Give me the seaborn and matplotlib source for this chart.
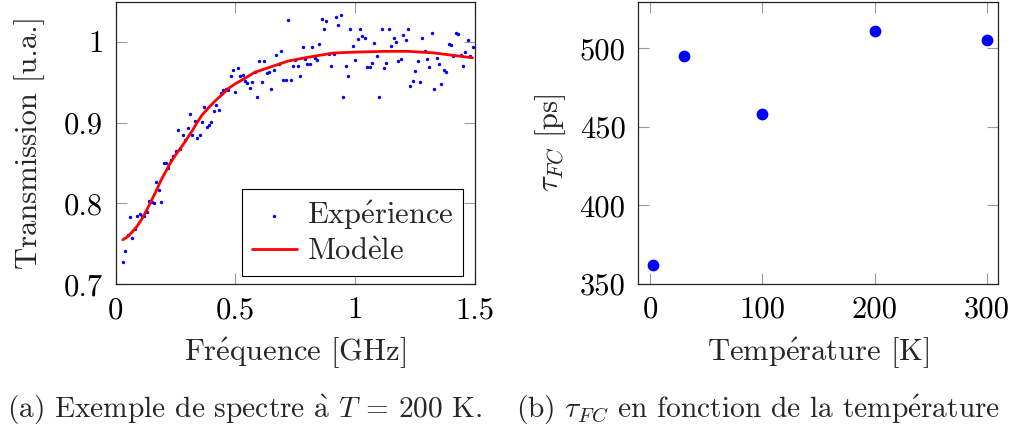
import matplotlib
matplotlib.use("Agg")
import matplotlib.pyplot as plt
import seaborn as sns
import pandas as pd

# ---------------- data ----------------
freq = [
    0.03, 0.04, 0.05, 0.06, 0.07, 0.08, 0.09, 0.10, 0.11, 0.12,
    0.13, 0.14, 0.15, 0.16, 0.17, 0.18, 0.19, 0.20, 0.21, 0.22,
    0.23, 0.24, 0.25, 0.26, 0.27, 0.28, 0.29, 0.30, 0.31, 0.32,
    0.33, 0.34, 0.35, 0.36, 0.37, 0.38, 0.39, 0.40, 0.41, 0.42,
    0.43, 0.44, 0.45, 0.46, 0.47, 0.48, 0.49, 0.50, 0.51, 0.52,
    0.53, 0.54, 0.55, 0.56, 0.57, 0.58, 0.59, 0.60, 0.61, 0.62,
    0.63, 0.64, 0.65, 0.66, 0.67, 0.68, 0.69, 0.70, 0.71, 0.72,
    0.73, 0.74, 0.75, 0.76, 0.77, 0.78, 0.79, 0.80, 0.81, 0.82,
    0.83, 0.84, 0.85, 0.86, 0.87, 0.88, 0.89, 0.90, 0.91, 0.92,
    0.93, 0.94, 0.95, 0.96, 0.97, 0.98, 0.99, 1.00, 1.01, 1.02,
    1.03, 1.04, 1.05, 1.06, 1.07, 1.08, 1.09, 1.10, 1.11, 1.12,
    1.13, 1.14, 1.15, 1.16, 1.17, 1.18, 1.19, 1.20, 1.21, 1.22,
    1.23, 1.24, 1.25, 1.26, 1.27, 1.28, 1.29, 1.30, 1.31, 1.32,
    1.33, 1.34, 1.35, 1.36, 1.37, 1.38, 1.39, 1.40, 1.41, 1.42,
    1.43, 1.44, 1.45, 1.46, 1.47, 1.48, 1.49,
]
transmission = [
    0.727, 0.741, 0.761, 0.783, 0.757, 0.768, 0.785, 0.787, 0.785, 0.784,
    0.789, 0.803, 0.802, 0.800, 0.827, 0.817, 0.802, 0.850, 0.850, 0.844,
    0.854, 0.858, 0.865, 0.891, 0.867, 0.884, 0.879, 0.893, 0.911, 0.885,
    0.902, 0.881, 0.884, 0.901, 0.919, 0.894, 0.897, 0.901, 0.914, 0.922,
    0.916, 0.936, 0.940, 0.942, 0.940, 0.957, 0.965, 0.938, 0.968, 0.957,
    0.959, 0.951, 0.949, 0.943, 0.950, 0.963, 0.931, 0.976, 0.950, 0.976,
    0.961, 0.962, 0.942, 0.965, 0.984, 0.972, 0.989, 0.952, 0.953, 1.027,
    0.952, 0.970, 0.977, 0.970, 0.957, 0.993, 0.978, 0.972, 0.972, 0.993,
    0.980, 0.977, 0.997, 1.028, 1.016, 1.026, 0.985, 0.970, 0.985, 1.030,
    1.021, 1.033, 0.932, 0.970, 0.958, 1.016, 0.994, 0.977, 1.003, 1.015,
    1.007, 1.004, 0.969, 0.969, 0.973, 0.998, 0.982, 0.931, 1.016, 0.968,
    0.973, 1.015, 0.994, 1.005, 1.000, 0.976, 0.979, 1.008, 1.002, 1.016,
    0.945, 0.951, 0.964, 0.976, 0.950, 1.005, 0.989, 0.978, 0.969, 1.011,
    0.941, 0.980, 0.972, 0.948, 0.965, 0.963, 0.997, 0.996, 0.982, 1.011,
    1.009, 0.984, 0.970, 0.987, 1.002, 0.982, 0.993,
]
model_freq = [0.03, 0.05, 0.07, 0.09, 0.11, 0.13, 0.15, 0.17, 0.19, 0.21,
              0.23, 0.255, 0.28, 0.30, 0.32, 0.34, 0.36, 0.39, 0.42, 0.45,
              0.47, 0.50, 0.53, 0.58, 0.65, 0.72, 0.79, 0.85, 0.91, 1.00,
              1.12, 1.22, 1.33, 1.41, 1.49]
model_trans = [0.755, 0.759, 0.765, 0.772, 0.781, 0.792, 0.804, 0.816, 0.829, 0.840,
               0.851, 0.862, 0.872, 0.881, 0.890, 0.900, 0.909, 0.919, 0.928, 0.936,
               0.942, 0.948, 0.953, 0.962, 0.969, 0.976, 0.980, 0.983, 0.986, 0.987,
               0.988, 0.988, 0.986, 0.983, 0.980]

temperature = [3, 30, 100, 200, 300]
tau_fc = [362, 495, 458, 511, 505]

left_xticks = [0, 0.5, 1, 1.5]
left_xticklabels = ["0", "0.5", "1", "1.5"]
left_yticks = [0.7, 0.8, 0.9, 1.0]
left_yticklabels = ["0.7", "0.8", "0.9", "1"]
right_xticks = [0, 100, 200, 300]
right_xticklabels = ["0", "100", "200", "300"]
right_yticks = [350, 400, 450, 500]
right_yticklabels = ["350", "400", "450", "500"]

# accented letters drawn in Computer Modern via mathtext
E_AIGU = r"$\mathrm{\acute{e}}$"
E_GRAVE = r"$\mathrm{\grave{e}}$"
A_GRAVE = r"$\mathrm{\grave{a}}$"

# ---------------- style ----------------
sns.set_theme(style="ticks")
plt.rcParams["font.family"] = ["cmr10", "DejaVu Serif"]
plt.rcParams["mathtext.fontset"] = "cm"
plt.rcParams["axes.unicode_minus"] = False
plt.rcParams["axes.formatter.use_mathtext"] = True
FS = 22

fig = plt.figure(figsize=(10.2, 4.32), dpi=100)
ax1 = fig.add_axes([0.1134, 0.3419, 0.3523, 0.6546])
ax2 = fig.add_axes([0.6255, 0.3426, 0.3529, 0.6528])

df_exp = pd.DataFrame({"f": freq, "t": transmission})
df_mod = pd.DataFrame({"f": model_freq, "t": model_trans})
df_tau = pd.DataFrame({"T": temperature, "tau": tau_fc})

sns.scatterplot(data=df_exp, x="f", y="t", ax=ax1, color="#0000ff", s=6,
                linewidth=0, label="Exp" + E_AIGU + "rience", zorder=3)
sns.lineplot(data=df_mod, x="f", y="t", ax=ax1, color="#ff0000", linewidth=2.0,
             label="Mod" + E_GRAVE + "le", zorder=4)
sns.scatterplot(data=df_tau, x="T", y="tau", ax=ax2, color="#0000ff", s=72,
                linewidth=0, zorder=3)

ax1.set_xlim(0, 1.5)
ax1.set_ylim(0.7, 1.0496)
ax2.set_xlim(-10.7, 310)
ax2.set_ylim(350, 529.5)

ax1.set_xticks(left_xticks)
ax1.set_xticklabels(left_xticklabels)
ax1.set_yticks(left_yticks)
ax1.set_yticklabels(left_yticklabels)
ax2.set_xticks(right_xticks)
ax2.set_xticklabels(right_xticklabels)
ax2.set_yticks(right_yticks)
ax2.set_yticklabels(right_yticklabels)

for ax in (ax1, ax2):
    ax.tick_params(direction="in", length=8, width=0.8, color="#9a9a9a",
                   top=True, right=True, labelsize=FS, labelcolor="black",
                   pad=9)
    for sp in ax.spines.values():
        sp.set_color("#222222")
        sp.set_linewidth(0.9)
        sp.set_visible(True)
    ax.grid(False)

ax1.set_xlabel("Fr" + E_AIGU + "quence [GHz]", fontsize=FS, labelpad=8)
ax1.set_ylabel("Transmission [u.a.]", fontsize=FS, labelpad=14)
ax2.set_xlabel("Temp" + E_AIGU + "rature [K]", fontsize=FS, labelpad=8)
ax2.set_ylabel(r"$\tau_{FC}$ [ps]", fontsize=FS, labelpad=8)

leg = ax1.legend(loc="lower right", bbox_to_anchor=(0.9666, 0.030),
                 borderaxespad=0, fontsize=FS, frameon=True, fancybox=False,
                 handlelength=1.5, handletextpad=0.3, borderpad=0.32,
                 labelspacing=0.2, markerscale=1.0)
leg.get_frame().set_edgecolor("black")
leg.get_frame().set_linewidth(0.8)
leg.get_frame().set_alpha(1)

CAP = 21.2
fig.text(0.2402, 0.05, "(a) Exemple de spectre " + A_GRAVE + r" $T$ = 200 K.",
         fontsize=CAP, ha="center", va="center")
fig.text(0.7431, 0.05, r"(b) $\tau_{FC}$ en fonction de la temp" + E_AIGU + "rature",
         fontsize=CAP, ha="center", va="center")

fig.savefig("out.png", dpi=100)
